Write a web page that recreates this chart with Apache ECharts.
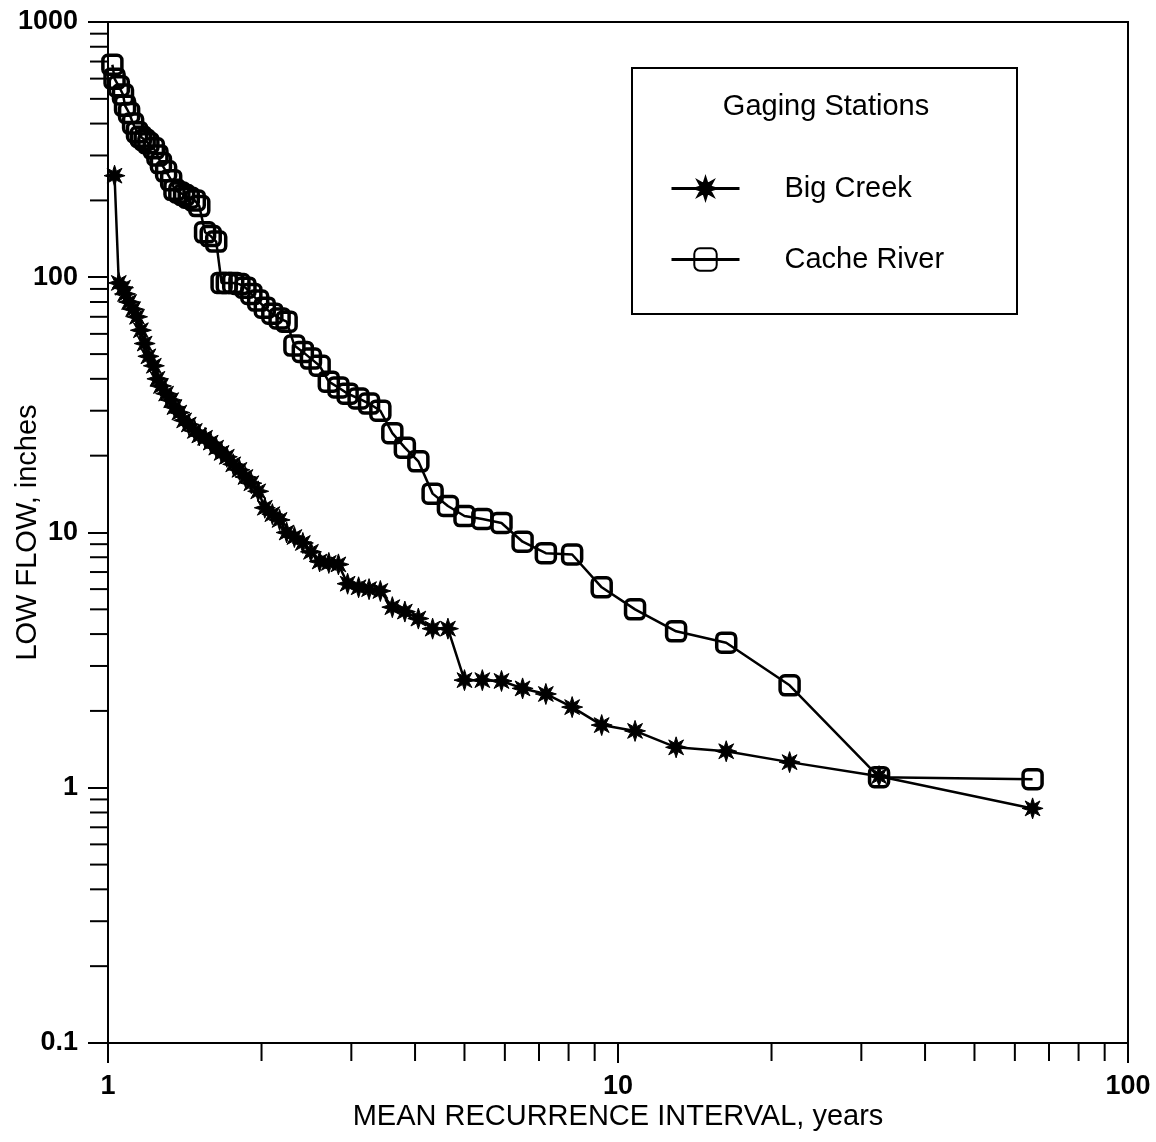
<!DOCTYPE html>
<html>
<head>
<meta charset="utf-8">
<title>Low flow frequency</title>
<script src="https://cdn.jsdelivr.net/npm/echarts@6/dist/echarts.min.js"></script>
<style>
    html, body { margin: 0; padding: 0; background: #fff; }
    #chart { width: 1156px; height: 1142px; }
</style>
</head>
<body>
<div id="chart"></div>
<script>
// mean recurrence interval (years), largest first
const recurrence = [65, 32.5, 21.7, 16.3, 13, 10.8, 9.29, 8.13, 7.22, 6.5,
    5.91, 5.42, 5, 4.64, 4.33, 4.06, 3.82, 3.61, 3.42, 3.25,
    3.1, 2.95, 2.83, 2.71, 2.6, 2.5, 2.41, 2.32, 2.24, 2.17,
    2.1, 2.03, 1.97, 1.91, 1.86, 1.81, 1.76, 1.71, 1.67, 1.63,
    1.59, 1.55, 1.51, 1.48, 1.44, 1.41, 1.38, 1.35, 1.33, 1.3,
    1.27, 1.25, 1.23, 1.2, 1.18, 1.16, 1.14, 1.12, 1.1, 1.08,
    1.07, 1.05, 1.03, 1.02];

// low flow, inches
const bigCreek = [0.83, 1.11, 1.26, 1.39, 1.44, 1.67, 1.76, 2.07, 2.33, 2.45,
    2.62, 2.64, 2.64, 4.2, 4.2, 4.6, 4.9, 5.1, 5.9, 6.0,
    6.1, 6.3, 7.5, 7.6, 7.7, 8.4, 9.1, 9.6, 10.0, 11.2,
    11.8, 12.5, 14.5, 15.6, 16.5, 17.6, 18.5, 19.8, 20.5, 21.5,
    22.5, 23.5, 24, 25, 26.5, 27.5, 29.5, 31, 33, 35,
    37.5, 40, 45, 49, 55, 62, 70, 75, 80, 86,
    91, 95, 250];

const cacheRiver = [1.08, 1.1, 2.52, 3.7, 4.1, 5.0, 6.1, 8.2, 8.3, 9.2,
    10.9, 11.3, 11.6, 12.7, 14.2, 19, 21.5, 24.5, 30, 32,
    33.5, 35, 37, 39, 45, 48, 51, 54, 67, 69,
    72, 76, 81, 86, 91, 94, 95, 95, 95, 138,
    145, 150, 190, 200, 205, 210, 215, 220, 240, 260,
    280, 300, 320, 335, 345, 355, 370, 400, 440, 470,
    520, 560, 600, 680];

const xMinorTicks = [2, 3, 4, 5, 6, 7, 8, 9, 20, 30, 40, 50, 60, 70, 80, 90];
const yMinorTicks = [0.2, 0.3, 0.4, 0.5, 0.6, 0.7, 0.8, 0.9,
    2, 3, 4, 5, 6, 7, 8, 9,
    20, 30, 40, 50, 60, 70, 80, 90,
    200, 300, 400, 500, 600, 700, 800, 900];

const FONT = "'Liberation Sans', Arial, Helvetica, sans-serif";
const ASTERISK = 'path://M10 0L4.2 1.8L7.07 7.07L1.8 4.2L0 10L-1.8 4.2L-7.07 7.07L-4.2 1.8L-10 0L-4.2 -1.8L-7.07 -7.07L-1.8 -4.2L0 -10L1.8 -4.2L7.07 -7.07L4.2 -1.8Z';

function pairs(values) {
    return values.map((v, i) => [recurrence[i], v]);
}

// short outward tick marks for the 2..9 positions of each decade
function minorTickSeries(data, vertical) {
    return {
        type: 'custom',
        silent: true,
        clip: false,
        data: data,
        renderItem: function(params, api) {
            const p = api.coord([api.value(0), api.value(1)]);
            const shape = vertical
                ? { x1: p[0], y1: p[1], x2: p[0], y2: p[1] + 18 }
                : { x1: p[0] - 18, y1: p[1], x2: p[0], y2: p[1] };
            return { type: 'line', shape: shape, style: { stroke: '#000', lineWidth: 2 } };
        }
    };
}

const chart = echarts.init(document.getElementById('chart'));

const option = {
    animation: false,
    backgroundColor: '#fff',
    grid: {
        left: 108, top: 22, right: 28, bottom: 99,
        show: true, borderColor: '#000', borderWidth: 2,
        outerBoundsMode: 'none'
    },
    xAxis: {
        type: 'log',
        logBase: 10,
        min: 1,
        max: 100,
        name: 'MEAN RECURRENCE INTERVAL, years',
        nameLocation: 'middle',
        nameGap: 59,
        nameMoveOverlap: false,
        nameTextStyle: { fontFamily: FONT, fontSize: 29, color: '#000' },
        axisLine: { lineStyle: { color: '#000', width: 2 } },
        axisTick: { show: true, inside: false, length: 20, lineStyle: { color: '#000', width: 2 } },
        axisLabel: {
            fontFamily: FONT, fontSize: 27, fontWeight: 'bold', color: '#000', margin: 30,
            formatter: v => String(v)
        },
        splitLine: { show: false }
    },
    yAxis: {
        type: 'log',
        logBase: 10,
        min: 0.1,
        max: 1000,
        name: 'LOW FLOW, inches',
        nameLocation: 'middle',
        nameGap: 66,
        nameMoveOverlap: false,
        nameTextStyle: { fontFamily: FONT, fontSize: 29, color: '#000' },
        axisLine: { lineStyle: { color: '#000', width: 2 } },
        axisTick: { show: true, inside: false, length: 20, lineStyle: { color: '#000', width: 2 } },
        axisLabel: {
            fontFamily: FONT, fontSize: 27, fontWeight: 'bold', color: '#000', margin: 30,
            formatter: v => String(v)
        },
        splitLine: { show: false }
    },
    legend: {
        data: ['Big Creek', 'Cache River'],
        orient: 'vertical',
        left: 665,
        top: 169,
        itemWidth: 68,
        itemHeight: 28,
        itemGap: 42,
        lineStyle: { width: 3 },
        textStyle: { fontFamily: FONT, fontSize: 29, color: '#000', padding: [0, 0, 0, 40] },
        z: 5
    },
    graphic: [
        {
            type: 'rect',
            z: 1,
            shape: { x: 632, y: 68, width: 385, height: 246 },
            style: { fill: '#fff', stroke: '#000', lineWidth: 2 }
        },
        {
            type: 'text',
            z: 2,
            style: {
                x: 826, y: 107,
                text: 'Gaging Stations',
                align: 'center',
                verticalAlign: 'middle',
                font: `29px ${FONT}`,
                fill: '#000'
            }
        }
    ],
    series: [
        {
            name: 'Big Creek',
            type: 'line',
            data: pairs(bigCreek),
            symbol: ASTERISK,
            symbolSize: 21,
            lineStyle: { color: '#000', width: 2.5 },
            itemStyle: { color: '#000', borderColor: '#000', borderWidth: 1 },
            z: 3
        },
        {
            name: 'Cache River',
            type: 'line',
            data: pairs(cacheRiver),
            symbol: 'roundRect',
            symbolSize: 19,
            lineStyle: { color: '#000', width: 2.5 },
            itemStyle: { color: 'rgba(255,255,255,0)', borderColor: '#000', borderWidth: 3.5 },
            z: 3
        },
        minorTickSeries(xMinorTicks.map(v => [v, 0.1]), true),
        minorTickSeries(yMinorTicks.map(v => [1, v]), false)
    ]
};

chart.setOption(option);
</script>
</body>
</html>
